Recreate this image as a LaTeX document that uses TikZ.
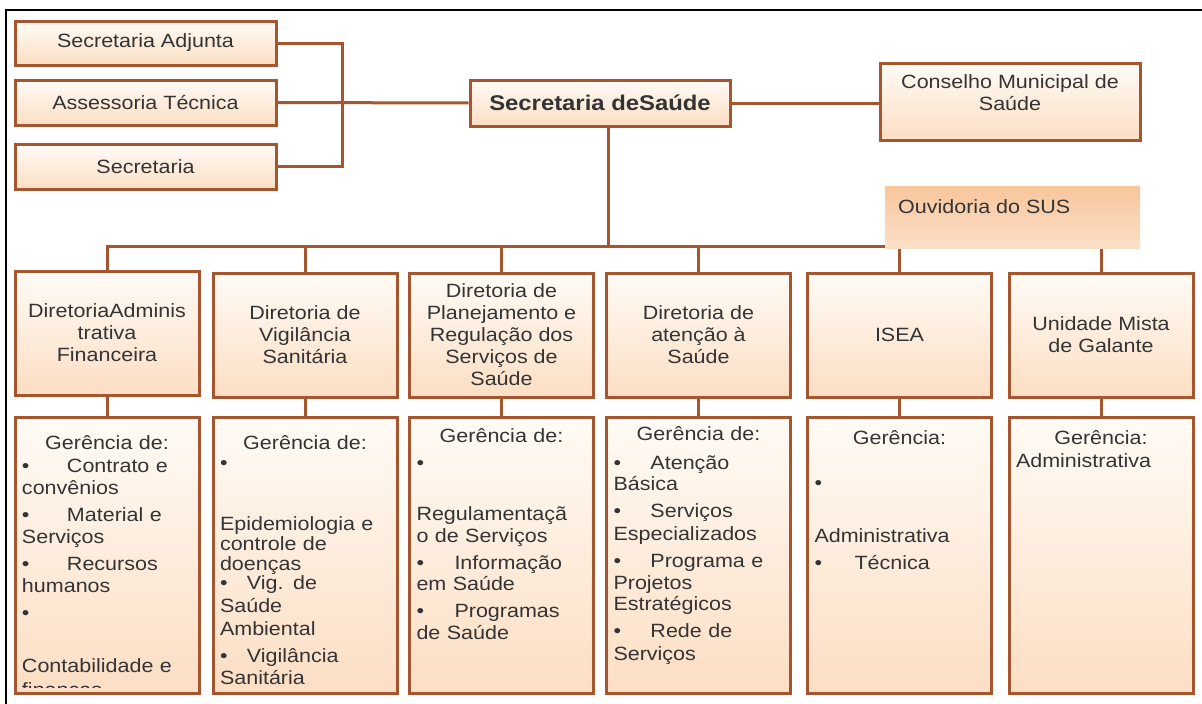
\documentclass[tikz,border=0pt]{standalone}
\usepackage{fontspec}
\setmainfont{Liberation Sans}[FakeStretch=1.12]
\usepackage{tikz}

\definecolor{edge}{RGB}{166,86,46}
\definecolor{ink}{RGB}{52,52,52}
\definecolor{boxtop}{RGB}{255,251,246}
\definecolor{boxbot}{RGB}{252,222,195}
\definecolor{ouvtop}{RGB}{248,198,156}
\definecolor{ouvbot}{RGB}{251,224,199}

\newcommand\gbul[1][38pt]{\makebox[#1][l]{•}}

\tikzset{
  orgbox/.style={draw=edge, line width=3pt, top color=boxtop, bottom color=boxbot,
    text=ink, inner sep=0pt, align=center, font=\fontsize{19.2}{22}\selectfont},
  dirbox/.style={orgbox, minimum width=184, minimum height=124},
  gerbox/.style={orgbox, minimum width=184, minimum height=276},
  gtxt/.style={anchor=north, text=ink, inner sep=0pt, text width=170pt, align=left,
    font=\fontsize{19.2}{22}\selectfont},
  lbl/.style={text=ink, inner sep=0pt, font=\fontsize{19.2}{22}\selectfont},
  link/.style={draw=edge, line width=3pt}
}

\begin{document}
\begin{tikzpicture}[x=1pt,y=-1pt]
  \useasboundingbox (0,0) rectangle (1202,704);
  \draw[line width=2.5pt] (6,704) -- (6,10) -- (1202,10);

  % top level
  \node[orgbox, minimum width=261, minimum height=44] (sadj) at (145.5,43) {Secretaria Adjunta};
  \node[orgbox, minimum width=261, minimum height=45] (asst) at (145.5,102.5) {Assessoria Técnica};
  \node[orgbox, minimum width=261, minimum height=45] (secr) at (145.5,166.5) {Secretaria};
  \node[orgbox, minimum width=260, minimum height=46, font=\fontsize{21.3}{24}\selectfont\bfseries]
    (sds) at (600,103) {Secretaria deSaúde};
  \node[orgbox, minimum width=260, minimum height=77] (cms) at (1010,101.5) {};
  \node[lbl, align=center] (cmslbl) at (1010,93) {Conselho Municipal de\\Saúde};

  % diretorias
  \node[dirbox] (d1) at (107,333) {DiretoriaAdminis\\trativa\\Financeira};
  \node[dirbox] (d2) at (305,335) {Diretoria de\\Vigilância\\Sanitária};
  \node[dirbox] (d3) at (501.5,335) {Diretoria de\\Planejamento e\\Regulação dos\\Serviços de\\Saúde};
  \node[dirbox] (d4) at (698.5,335) {Diretoria de\\atenção à\\Saúde};
  \node[dirbox] (d5) at (899.5,335) {ISEA};
  \node[dirbox] (d6) at (1101,335) {Unidade Mista\\de Galante};

  % gerencias
  \node[gerbox] (g1) at (107,555) {};
  \node[gerbox] (g2) at (305,555) {};
  \node[gerbox] (g3) at (501.5,555) {};
  \node[gerbox] (g4) at (698.5,555) {};
  \node[gerbox] (g5) at (899.5,555) {};
  \node[gerbox] (g6) at (1101,555) {};

  \begin{scope}
    \clip (15,417) rectangle (199,687);
    \node[gtxt] (g1txt) at (107,435) {\makebox[170pt]{Gerência de:}\\[1pt]
      \gbul[45pt]Contrato e\\convênios\\[5pt]
      \gbul[45pt]Material e\\Serviços\\[5pt]
      \gbul[45pt]Recursos\\humanos\\[5pt]
      •\\[31pt]
      Contabilidade e\\[2pt]finanças};
  \end{scope}
  \node[gtxt] (g2txt) at (305,435) {\makebox[170pt]{Gerência de:}\\[-2pt]
    •\\[39pt]
    Epidemiologia e\\[-2pt]controle de\\[-2pt]doenças\\[-3pt]
    \gbul[27pt]Vig. de\\[1pt]Saúde\\[1pt]Ambiental\\[5pt]
    \gbul[27pt]Vigilância\\Sanitária};
  \node[gtxt] (g3txt) at (501.5,428) {\makebox[170pt]{Gerência de:}\\[5pt]
    •\\[29pt]
    Regulamentaçã\\o de Serviços\\[5pt]
    \gbul Informação\\[-1pt]em Saúde\\[5pt]
    \gbul Programas\\de Saúde};
  \node[gtxt] (g4txt) at (698.5,426) {\makebox[170pt]{Gerência de:}\\[7pt]
    \gbul[37pt]Atenção\\[-1pt]Básica\\[5pt]
    \gbul[37pt]Serviços\\[1pt]Especializados\\[5pt]
    \gbul[37pt]Programa e\\Projetos\\[-1pt]Estratégicos\\[5pt]
    \gbul[37pt]Rede de\\[1pt]Serviços};
  \node[gtxt] (g5txt) at (899.5,430) {\makebox[170pt]{Gerência:}\\[23pt]
    •\\[31pt]
    Administrativa\\[5pt]
    \gbul[40pt]Técnica};
  \node[gtxt] (g6txt) at (1101,430) {\makebox[170pt]{Gerência:}\\[1pt]
    Administrativa};

  % ligacoes
  \coordinate (brk) at (342,0);
  \coordinate (bus) at (608,246);
  \draw[link] (sadj.east) -- (sadj.east -| brk) -- (secr.east -| brk) -- (secr.east);
  \draw[link] (asst.east) -- (sds.west);
  \draw[link] (sds.east) -- (sds.east -| cms.west);
  \draw[link] ([xshift=8pt]sds.south) -- (bus);
  \draw[link] (d1.north) -- (d1.north |- bus) -- (d6.north |- bus) -- (d6.north);
  \draw[link] (d2.north) -- (d2.north |- bus);
  \draw[link] (d3.north) -- (d3.north |- bus);
  \draw[link] (d4.north) -- (d4.north |- bus);
  \draw[link] (d5.north) -- (d5.north |- bus);
  \draw[link] (d1.south) -- (g1.north);
  \draw[link] (d2.south) -- (g2.north);
  \draw[link] (d3.south) -- (g3.north);
  \draw[link] (d4.south) -- (g4.north);
  \draw[link] (d5.south) -- (g5.north);
  \draw[link] (d6.south) -- (g6.north);

  % ouvidoria
  \node[top color=ouvtop, bottom color=ouvbot, minimum width=255, minimum height=62, inner sep=0pt]
    (ouv) at (1012.5,217) {};
  \node[lbl, anchor=west] (ouvlbl) at (898,207) {Ouvidoria do SUS};
\end{tikzpicture}
\end{document}
